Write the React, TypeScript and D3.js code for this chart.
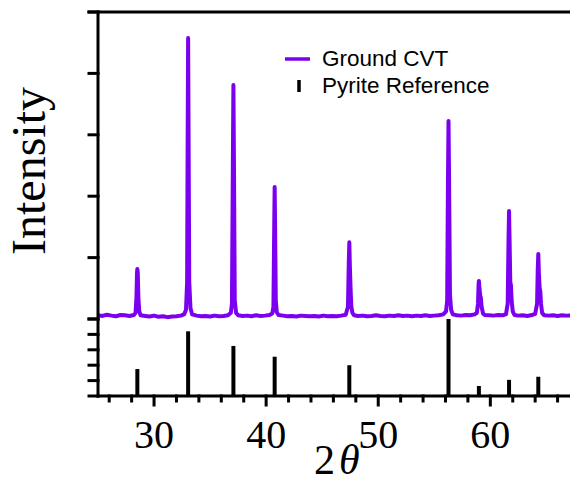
import React from 'react';
import * as d3 from 'd3';

// measured pattern of the ground CVT sample, [2theta, normalised intensity]
const groundCVT: [number, number][] = [
  [25.0, 0.012], [25.4, 0.010], [25.8, 0.014], [26.2, 0.011], [26.6, 0.009], [27.0, 0.013],
  [27.4, 0.012], [27.8, 0.010], [28.2, 0.013],
  [28.35, 0.02], [28.43, 0.07], [28.48, 0.15], [28.51, 0.163], [28.55, 0.15], [28.6, 0.07],
  [28.68, 0.025], [28.8, 0.012],
  [29.2, 0.010], [29.6, 0.008], [30.0, 0.011], [30.4, 0.007], [30.8, 0.009], [31.2, 0.006],
  [31.6, 0.008], [32.0, 0.009], [32.4, 0.011], [32.7, 0.016],
  [32.85, 0.03], [32.95, 0.12], [33.0, 0.6], [33.04, 0.915], [33.08, 0.6], [33.14, 0.12],
  [33.25, 0.035], [33.4, 0.015],
  [33.8, 0.011], [34.2, 0.009], [34.6, 0.010], [35.0, 0.008], [35.4, 0.011], [35.8, 0.009],
  [36.2, 0.010], [36.6, 0.012], [36.85, 0.02],
  [36.95, 0.05], [37.03, 0.5], [37.08, 0.762], [37.13, 0.5], [37.2, 0.06], [37.32, 0.02],
  [37.5, 0.012],
  [37.9, 0.010], [38.3, 0.011], [38.7, 0.009], [39.1, 0.012], [39.5, 0.010], [39.9, 0.011],
  [40.3, 0.013], [40.55, 0.018],
  [40.65, 0.04], [40.72, 0.3], [40.76, 0.43], [40.8, 0.3], [40.86, 0.06], [40.95, 0.022],
  [41.1, 0.013],
  [41.5, 0.011], [41.9, 0.009], [42.3, 0.010], [42.7, 0.008], [43.1, 0.011], [43.5, 0.010],
  [43.9, 0.009], [44.3, 0.010], [44.7, 0.008], [45.1, 0.011], [45.5, 0.009], [45.9, 0.010],
  [46.3, 0.009], [46.7, 0.011], [47.1, 0.014],
  [47.3, 0.04], [47.37, 0.18], [47.42, 0.25], [47.47, 0.17], [47.53, 0.1], [47.6, 0.04],
  [47.7, 0.02], [47.85, 0.012],
  [48.2, 0.010], [48.6, 0.011], [49.0, 0.009], [49.4, 0.010], [49.8, 0.012], [50.2, 0.010],
  [50.6, 0.009], [51.0, 0.011], [51.4, 0.010], [51.8, 0.012], [52.2, 0.010], [52.6, 0.011],
  [53.0, 0.009], [53.4, 0.011], [53.8, 0.010], [54.2, 0.012], [54.6, 0.010], [55.0, 0.011],
  [55.4, 0.012], [55.8, 0.015], [56.05, 0.025],
  [56.15, 0.06], [56.22, 0.45], [56.27, 0.645], [56.32, 0.45], [56.4, 0.08], [56.5, 0.03],
  [56.65, 0.015],
  [57.0, 0.012], [57.4, 0.011], [57.8, 0.013], [58.2, 0.012], [58.6, 0.015], [58.8, 0.02],
  [58.9, 0.05], [58.95, 0.11], [58.98, 0.124], [59.03, 0.1], [59.1, 0.075], [59.15, 0.07],
  [59.22, 0.04], [59.35, 0.018], [59.5, 0.013],
  [59.9, 0.012], [60.3, 0.011], [60.7, 0.013], [61.1, 0.012], [61.4, 0.016],
  [61.55, 0.05], [61.62, 0.25], [61.67, 0.352], [61.72, 0.25], [61.78, 0.12], [61.84, 0.11],
  [61.9, 0.06], [62.0, 0.025], [62.15, 0.013],
  [62.5, 0.011], [62.9, 0.012], [63.3, 0.010], [63.7, 0.013], [64.0, 0.017],
  [64.17, 0.05], [64.23, 0.16], [64.28, 0.212], [64.33, 0.15], [64.4, 0.1], [64.46, 0.09],
  [64.52, 0.05], [64.62, 0.02], [64.8, 0.012],
  [65.2, 0.011], [65.6, 0.012], [66.0, 0.010], [66.4, 0.012], [66.8, 0.011], [67.2, 0.012],
  [67.6, 0.010], [68.0, 0.011],
];

// pyrite reference lines
const refAngles = [28.51, 33.04, 37.08, 40.76, 47.42, 56.27, 58.98, 61.67, 64.28];
const refIntensity = [35, 84, 65, 51, 40, 100, 13, 21, 25];

const xMajorTicks = [30, 40, 50, 60];
const xMinorTicks = [26, 28, 32, 34, 36, 38, 42, 44, 46, 48, 52, 54, 56, 58, 62, 64, 66];
const topTicks = [0, 0.2, 0.4, 0.6, 0.8, 1];
const refTicks = [0, 20, 40, 60, 80, 100];

const purple = '#7c00f0';

export default function App() {
  const left = 98, right = 580, top = 12, mid = 319, bottom = 396;

  const x = d3.scaleLinear().domain([25, 68]).range([left, right]);
  const yTop = d3.scaleLinear().domain([0, 1]).range([mid, top]);
  const yRef = d3.scaleLinear().domain([0, 100]).range([bottom, mid]);

  const line = d3.line<[number, number]>()
    .x(d => x(d[0]))
    .y(d => yTop(d[1]));

  const serif = '"Liberation Serif", "Times New Roman", serif';
  const sans = '"Liberation Sans", Arial, sans-serif';

  return (
    <svg width={570} height={484} style={{ position: 'absolute', left: 0, top: 0 }}>
      <defs>
        <clipPath id="plot">
          <rect x={left} y={0} width={right - left} height={bottom} />
        </clipPath>
      </defs>

      {/* pattern */}
      <path d={line(groundCVT) || ''} fill="none" stroke={purple} strokeWidth={4}
        strokeLinejoin="round" strokeLinecap="round" clipPath="url(#plot)" />

      {/* reference sticks */}
      {refAngles.map((a, i) => (
        <line key={a} x1={x(a)} x2={x(a)} y1={yRef(0)} y2={yRef(refIntensity[i])}
          stroke="#000" strokeWidth={4} />
      ))}

      {/* frame */}
      <g stroke="#000" strokeWidth={3} strokeLinecap="square">
        <line x1={left - 9} x2={right} y1={top} y2={top} />
        <line x1={left} x2={left} y1={top} y2={bottom} />
        <line x1={left} x2={right} y1={bottom} y2={bottom} />
        {topTicks.map(t => (
          <line key={'t' + t} x1={left - 9} x2={left} y1={yTop(t)} y2={yTop(t)} />
        ))}
        {refTicks.map(t => (
          <line key={'r' + t} x1={left - 9} x2={left} y1={yRef(t)} y2={yRef(t)} />
        ))}
        {xMajorTicks.map(t => (
          <line key={'M' + t} x1={x(t)} x2={x(t)} y1={bottom} y2={bottom + 9} />
        ))}
        {xMinorTicks.map(t => (
          <line key={'m' + t} x1={x(t)} x2={x(t)} y1={bottom} y2={bottom + 5} />
        ))}
      </g>

      {xMajorTicks.map(t => (
        <text key={'l' + t} x={x(t)} y={448} textAnchor="middle" fontFamily={serif} fontSize={40}>
          {t}
        </text>
      ))}

      <text x={314} y={474} fontFamily={serif} fontSize={42}>
        <tspan>2</tspan>
        <tspan dx={4} fontStyle="italic">θ</tspan>
      </text>

      <text transform="translate(45,171) rotate(-90)" textAnchor="middle" fontFamily={serif} fontSize={48}>
        Intensity
      </text>

      {/* legend */}
      <line x1={285} x2={310} y1={59} y2={59} stroke={purple} strokeWidth={3.5} />
      <text x={322} y={66} fontFamily={sans} fontSize={22.5}>Ground CVT</text>
      <line x1={299} x2={299} y1={80} y2={92} stroke="#000" strokeWidth={3.5} />
      <text x={322} y={93} fontFamily={sans} fontSize={22.5}>Pyrite Reference</text>
    </svg>
  );
}
